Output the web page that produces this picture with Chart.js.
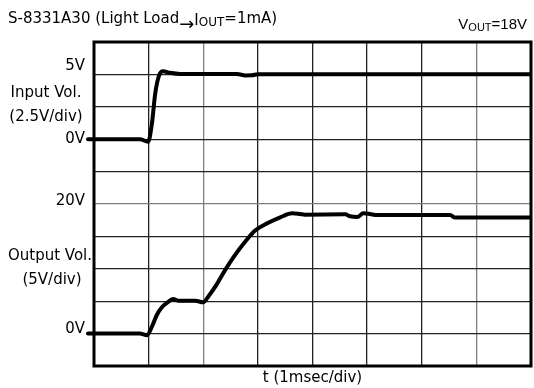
<!DOCTYPE html>
<html>
<head>
<meta charset="utf-8">
<script src="https://cdn.jsdelivr.net/npm/chart.js@4.4.0/dist/chart.umd.min.js"></script>
<style>
  html, body { margin:0; padding:0; background:#fff; }
</style>
</head>
<body>
<canvas id="scope" width="534" height="388"></canvas>
<script>
// time in ms (1 div = 1 ms), volts
const inTime  = [-0.11, 0.84, 0.99, 1.06, 1.12, 1.19, 1.26, 1.39, 1.58, 2.62, 2.77, 2.89, 3.0, 8.0];
const inVolts = [0, 0, -0.2, 1.2, 3.5, 4.9, 5.25, 5.12, 5.03, 5.03, 4.92, 4.93, 5.02, 5.02];

const outTime  = [-0.11, 0.84, 0.97, 1.06, 1.15, 1.25, 1.36, 1.45, 1.54, 1.85, 2.0, 2.09, 2.22, 2.4, 2.58, 2.77, 2.95, 3.19, 3.41, 3.63, 3.77, 3.86, 4.6, 4.69, 4.82, 4.93, 5.05, 5.18, 6.52, 6.61, 8.0];
const outVolts = [0, 0, -0.24, 1.06, 2.87, 4.15, 4.9, 5.34, 5.08, 5.08, 4.83, 5.7, 7.24, 9.8, 12.1, 14.2, 15.9, 17.1, 17.95, 18.56, 18.45, 18.35, 18.4, 18.1, 18.0, 18.56, 18.46, 18.3, 18.3, 17.9, 17.9];

const inTickValues  = [5, 0];
const inTickText    = ['5V', '0V'];
const outTickValues = [20, 0];
const outTickText   = ['20V', '0V'];
const inCaption  = ['Input Vol.', '(2.5V/div)'];
const outCaption = ['Output Vol.', '(5V/div)'];
const titleText = ['S-8331A30 (Light Load', '\u2192', 'I', 'OUT', '=1mA)'];
const voutText  = ['V', 'OUT', '=18V'];
const xTitle = 't (1msec/div)';

const SANS = "'DejaVu Sans', sans-serif";
const ARIAL = "'Liberation Sans', Arial, sans-serif";

function drawRuns(ctx, texts, styles, x, align) {
  const widths = texts.map((t, i) => {
    ctx.font = styles[i].size + 'px ' + styles[i].family;
    return ctx.measureText(t).width;
  });
  const total = widths.reduce((s, w) => s + w, 0);
  let cx = align === 'right' ? x - total : x;
  texts.forEach((t, i) => {
    ctx.font = styles[i].size + 'px ' + styles[i].family;
    ctx.fillText(t, cx, styles[i].base);
    cx += widths[i];
  });
}

const scopeText = {
  id: 'scopeText',
  afterDraw(chart) {
    const { ctx, chartArea: a } = chart;
    const yIn = chart.scales.yIn, yOut = chart.scales.y;
    ctx.save();
    ctx.strokeStyle = '#000';
    ctx.lineWidth = 3;
    ctx.strokeRect(a.left, a.top, a.right - a.left, a.bottom - a.top);

    ctx.fillStyle = '#000';
    ctx.textBaseline = 'middle';
    ctx.font = '15px ' + SANS;
    ctx.textAlign = 'right';
    const inShift = [-8, 0], outShift = [-3, -4];
    inTickValues.forEach((v, i) => ctx.fillText(inTickText[i], a.left - 9, yIn.getPixelForValue(v) + inShift[i]));
    outTickValues.forEach((v, i) => ctx.fillText(outTickText[i], a.left - 9, yOut.getPixelForValue(v) + outShift[i]));

    ctx.textAlign = 'center';
    ctx.fillText(inCaption[0], 46, yIn.getPixelForValue(3.56));
    ctx.fillText(inCaption[1], 46, yIn.getPixelForValue(1.71));
    ctx.fillText(outCaption[0], 50, yOut.getPixelForValue(11.95));
    ctx.fillText(outCaption[1], 52, yOut.getPixelForValue(8.27));

    ctx.textAlign = 'left';
    ctx.textBaseline = 'alphabetic';
    drawRuns(ctx, titleText, [
      { size: 15, family: SANS, base: 23 },
      { size: 18, family: SANS, base: 30 },
      { size: 15, family: SANS, base: 25 },
      { size: 12, family: SANS, base: 26 },
      { size: 15, family: SANS, base: 23 }
    ], 8, 'left');
    drawRuns(ctx, voutText, [
      { size: 15, family: ARIAL, base: 29 },
      { size: 11, family: ARIAL, base: 31 },
      { size: 15, family: ARIAL, base: 29 }
    ], 527, 'right');
    ctx.restore();
  }
};

const trace = {
  borderColor: '#000',
  borderWidth: 4,
  pointRadius: 0,
  fill: false,
  cubicInterpolationMode: 'monotone',
  borderJoinStyle: 'round',
  borderCapStyle: 'round',
  clip: { left: 8, top: 4, right: 0, bottom: 4 }
};

new Chart(document.getElementById('scope'), {
  type: 'line',
  data: {
    datasets: [
      Object.assign({ label: 'Input', yAxisID: 'yIn', data: inTime.map((t, i) => ({ x: t, y: inVolts[i] })) }, trace),
      Object.assign({ label: 'Output', yAxisID: 'y', data: outTime.map((t, i) => ({ x: t, y: outVolts[i] })) }, trace)
    ]
  },
  options: {
    responsive: false,
    animation: false,
    devicePixelRatio: 1,
    layout: { padding: { top: 42, right: 3, bottom: 0, left: 0 } },
    plugins: { legend: { display: false }, tooltip: { enabled: false } },
    scales: {
      x: {
        type: 'linear', min: 0, max: 8,
        ticks: { stepSize: 1, display: false },
        grid: { drawTicks: false, lineWidth: 1.3, color: c => (c.tick && (c.tick.value === 2 || c.tick.value === 7)) ? '#808080' : '#222' },
        border: { display: false },
        title: { display: true, text: xTitle, color: '#000', font: { family: SANS, size: 15 }, padding: { top: 0, bottom: 1 } },
        afterFit(s) { s.height = 22; }
      },
      y: {
        position: 'left', weight: 1, min: -5, max: 45,
        ticks: { stepSize: 5, display: false },
        grid: { drawTicks: false, lineWidth: 1.3, color: c => (c.tick && c.tick.value === 20) ? '#808080' : '#222' },
        border: { display: false },
        afterFit(s) { s.width = 94; }
      },
      yIn: { position: 'left', display: false, min: -17.5, max: 7.5 }
    }
  },
  plugins: [scopeText]
});
</script>
</body>
</html>
